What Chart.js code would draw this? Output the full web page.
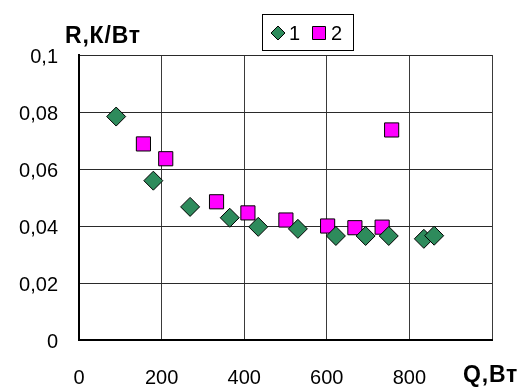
<!DOCTYPE html>
<html>
<head>
<meta charset="utf-8">
<script src="https://cdn.jsdelivr.net/npm/chart.js@4/dist/chart.umd.min.js"></script>
<style>
  html, body { margin: 0; padding: 0; background: #fff; }
  #wrap { width: 526px; height: 390px; }
</style>
</head>
<body>
<div id="wrap"><canvas id="c" width="526" height="390"></canvas></div>
<script>
// Thermal resistance R (K/W) versus heat load Q (W), two series
const q1 = [90, 180, 269, 365, 434, 530, 622, 694, 750, 835, 860];
const r1 = [0.0784, 0.0559, 0.0467, 0.0429, 0.0397, 0.0390, 0.0365, 0.0365, 0.0365, 0.0355, 0.0366];
const q2 = [156, 210, 333, 409, 501, 602, 668, 734, 757];
const r2 = [0.0688, 0.0636, 0.0485, 0.0446, 0.0421, 0.0400, 0.0394, 0.0396, 0.0737];
const seriesNames = ['1', '2'];
const xTicks = [0, 200, 400, 600, 800, 1000];
const yTicks = [0, 0.02, 0.04, 0.06, 0.08, 0.1];
const xTitle = 'Q,Вт';
const yTitle = 'R,К/Вт';

const GREEN = '#2E8B5C';
const MAGENTA = '#FF00FF';
const FONT = '"Liberation Sans", Arial, sans-serif';
const TICK_SIZE = 20;

function pts(xs, ys) { return xs.map((x, i) => ({ x: x, y: ys[i] })); }
function fmt(v) { return String(+v.toFixed(3)).replace('.', ','); }

// Axis titles and the boxed legend
const decor = {
  id: 'decor',
  afterDraw(chart) {
    const ctx = chart.ctx;
    ctx.save();
    ctx.fillStyle = '#000';
    ctx.font = 'bold 23px ' + FONT;
    ctx.textBaseline = 'middle';
    ctx.textAlign = 'left';
    if ('letterSpacing' in ctx) ctx.letterSpacing = '0.8px';
    ctx.fillText(yTitle, 65, 37);
    ctx.fillText(xTitle, 463, 376);
    if ('letterSpacing' in ctx) ctx.letterSpacing = '0px';

    // legend frame
    ctx.strokeStyle = '#000';
    ctx.lineWidth = 1;
    ctx.strokeRect(262.5, 14.5, 91, 36);
    // diamond marker
    const dx = 278, dy = 33, dr = 7;
    ctx.beginPath();
    ctx.moveTo(dx, dy - dr); ctx.lineTo(dx + dr, dy); ctx.lineTo(dx, dy + dr); ctx.lineTo(dx - dr, dy); ctx.closePath();
    ctx.fillStyle = GREEN; ctx.fill(); ctx.stroke();
    // square marker
    ctx.beginPath();
    ctx.rect(312.5, 26.5, 13, 13);
    ctx.fillStyle = MAGENTA; ctx.fill(); ctx.stroke();
    ctx.fillStyle = '#000';
    ctx.font = '20px ' + FONT;
    ctx.fillText(seriesNames[0], 289, 34);
    ctx.fillText(seriesNames[1], 331, 34);
    ctx.restore();
  }
};

new Chart(document.getElementById('c'), {
  type: 'scatter',
  data: {
    datasets: [
      {
        label: seriesNames[0],
        data: pts(q1, r1),
        pointStyle: 'rectRot',
        pointRadius: 9.5,
        pointHoverRadius: 9.5,
        backgroundColor: GREEN,
        borderColor: '#000',
        borderWidth: 1
      },
      {
        label: seriesNames[1],
        data: pts(q2, r2),
        pointStyle: 'rect',
        pointRadius: 10,
        pointHoverRadius: 10,
        backgroundColor: MAGENTA,
        borderColor: '#000',
        borderWidth: 1
      }
    ]
  },
  options: {
    responsive: false,
    animation: false,
    events: [],
    layout: { padding: { left: 0, right: 34, top: 55, bottom: 0 } },
    plugins: { legend: { display: false }, tooltip: { enabled: false } },
    scales: {
      x: {
        type: 'linear',
        min: xTicks[0],
        max: xTicks[xTicks.length - 1],
        afterBuildTicks(axis) { axis.ticks = xTicks.map(v => ({ value: v })); },
        afterFit(axis) { axis.height = 50; },
        grid: { color: '#3a3a3a', lineWidth: 1, drawTicks: false },
        border: { color: '#000', width: 2 },
        ticks: {
          color: '#000',
          font: { family: FONT, size: TICK_SIZE },
          padding: 26,
          maxRotation: 0,
          callback: v => (v === xTicks[xTicks.length - 1] ? '' : String(v))
        }
      },
      y: {
        type: 'linear',
        min: yTicks[0],
        max: yTicks[yTicks.length - 1],
        afterBuildTicks(axis) { axis.ticks = yTicks.map(v => ({ value: v })); },
        afterFit(axis) { axis.width = 79; },
        grid: { color: '#2a2a2a', lineWidth: 1, drawTicks: false },
        border: { color: '#000', width: 2 },
        ticks: {
          color: '#000',
          font: { family: FONT, size: TICK_SIZE },
          padding: 21,
          labelOffset: 2,
          callback: v => fmt(v)
        }
      }
    }
  },
  plugins: [decor]
});
</script>
</body>
</html>
